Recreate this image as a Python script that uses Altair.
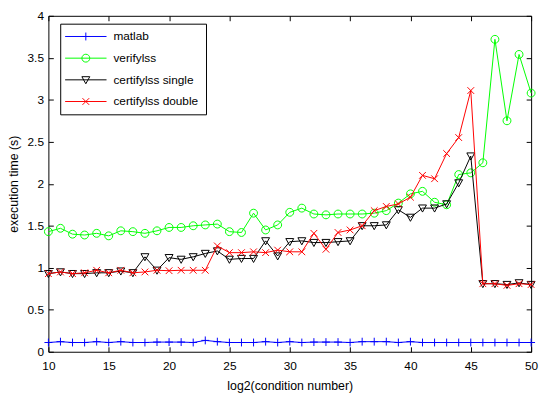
import altair as alt
import pandas as pd

x_vals = list(range(10, 51))

matlab = [0.11, 0.12, 0.11, 0.11, 0.12, 0.11, 0.12, 0.11, 0.11, 0.115,
          0.115, 0.115, 0.11, 0.135, 0.12, 0.11, 0.11, 0.11, 0.12, 0.11,
          0.12, 0.11, 0.115, 0.115, 0.115, 0.11, 0.12, 0.12, 0.12, 0.11,
          0.12, 0.11, 0.11, 0.11, 0.11, 0.11, 0.11, 0.11, 0.11, 0.11, 0.11]

verifylss = [1.43, 1.47, 1.40, 1.39, 1.41, 1.38, 1.44, 1.43, 1.41, 1.44,
             1.48, 1.48, 1.50, 1.51, 1.52, 1.43, 1.42, 1.65, 1.45, 1.51,
             1.66, 1.71, 1.64, 1.63, 1.64, 1.64, 1.64, 1.65, 1.68, 1.77,
             1.88, 1.91, 1.78, 1.75, 2.11, 2.13, 2.25, 3.72, 2.75, 3.54, 3.08]

certify_single = [0.93, 0.95, 0.93, 0.93, 0.94, 0.94, 0.96, 0.94, 1.13, 0.97,
                  1.12, 1.10, 1.13, 1.17, 1.20, 1.10, 1.11, 1.11, 1.32, 1.14,
                  1.31, 1.32, 1.30, 1.30, 1.31, 1.32, 1.50, 1.50, 1.51, 1.69,
                  1.60, 1.71, 1.71, 1.76, 2.01, 2.33, 0.81, 0.81, 0.80, 0.82, 0.80]

certify_double = [0.93, 0.95, 0.93, 0.94, 0.97, 0.94, 0.97, 0.94, 0.95, 0.97,
                  0.965, 0.97, 0.97, 0.97, 1.26, 1.18, 1.18, 1.19, 1.18, 1.21,
                  1.19, 1.19, 1.41, 1.22, 1.42, 1.45, 1.50, 1.68, 1.73, 1.76,
                  1.84, 2.10, 2.06, 2.36, 2.55, 3.11, 0.81, 0.81, 0.79, 0.81, 0.80]

series_names = ["matlab", "verifylss", "certifylss single", "certifylss double"]
series_values = [matlab, verifylss, certify_single, certify_double]
colors = ["#0000ff", "#00ff00", "#000000", "#ff0000"]
x_ticks = list(range(10, 51, 5))
y_ticks = [0, 0.5, 1, 1.5, 2, 2.5, 3, 3.5, 4]

marker_paths = [
    "M-1,0L1,0M0,-1L0,1",
    "M1,0A1,1 0 1,1 -1,0A1,1 0 1,1 1,0",
    "M-1,-0.8L1,-0.8L0,1Z",
    "M-0.85,-0.85L0.85,0.85M-0.85,0.85L0.85,-0.85",
]
legend_paths = ["M-5.25,0L5.25,0" + p for p in marker_paths]

rows = []
for name, vals in zip(series_names, series_values):
    for xv, yv in zip(x_vals, vals):
        rows.append({"x": xv, "y": yv, "series": name})
df = pd.DataFrame(rows)

W, H = 490, 341
TICK = 5
FONT = "Liberation Sans"
xscale = alt.Scale(domain=[10, 50], nice=False, zero=False)
yscale = alt.Scale(domain=[0, 4], nice=False)

# main axes: shifted inside by the tick length so that their ticks point inward
main_x = alt.Axis(orient="bottom", values=x_ticks, title="log2(condition number)",
                  offset=-TICK, ticks=True, tickSize=TICK, tickColor="black", tickWidth=1,
                  domain=False, grid=False, labelPadding=9,
                  titlePadding=8, labelFlush=False, labelOverlap=False,
                  labelFont=FONT, titleFont=FONT, labelFontSize=12, titleFontSize=12.5,
                  labelColor="black", titleColor="black", titleFontWeight="normal")
main_y = alt.Axis(orient="left", values=y_ticks, format="~g", title="execution time (s)",
                  offset=-TICK, ticks=True, tickSize=TICK, tickColor="black", tickWidth=1,
                  domain=False, grid=False, labelPadding=5,
                  titlePadding=7, labelOverlap=False,
                  labelFont=FONT, titleFont=FONT, labelFontSize=12, titleFontSize=12.5,
                  labelColor="black", titleColor="black", titleFontWeight="normal")


def tick_axis(orient, values, offset):
    return alt.Axis(orient=orient, values=values, offset=offset, labels=False,
                    title=None, domain=False, grid=False, ticks=True, tickSize=TICK,
                    tickColor="black", tickWidth=1)


axis_sets = [
    (main_x, main_y),
    # inward ticks at the top and right edges
    (tick_axis("bottom", x_ticks, -H), tick_axis("left", y_ticks, -W)),
]

base = alt.Chart(df)
layers = []
k = 0
for i, name in enumerate(series_names):
    d = base.transform_filter(alt.datum.series == name)
    for kind in ("line", "point"):
        if k < len(axis_sets):
            ax_x, ax_y = axis_sets[k]
        else:
            ax_x, ax_y = None, None
        enc = dict(
            x=alt.X("x:Q", scale=xscale, axis=ax_x),
            y=alt.Y("y:Q", scale=yscale, axis=ax_y),
        )
        if kind == "line":
            m = d.mark_line(color=colors[i], strokeWidth=1).encode(**enc)
        else:
            m = d.mark_point(shape=marker_paths[i], size=64, filled=False,
                             color=colors[i], strokeWidth=1, opacity=1).encode(**enc)
        layers.append(m)
        k += 1

legend_def = alt.Legend(title=None, orient="none", legendX=12, legendY=8,
                        strokeColor="black", fillColor="white", padding=7,
                        symbolOffset=13, labelOffset=22, rowPadding=10,
                        symbolSize=64, symbolStrokeWidth=1, labelFontSize=12,
                        labelFont=FONT, labelColor="black", cornerRadius=0)

legend_layer = base.transform_filter("false").mark_point(
    filled=False, size=64, strokeWidth=1, opacity=1
).encode(
    x=alt.X("x:Q", scale=xscale, axis=None),
    y=alt.Y("y:Q", scale=yscale, axis=None),
    color=alt.Color("series:N", scale=alt.Scale(domain=series_names, range=colors),
                    legend=legend_def),
    shape=alt.Shape("series:N", scale=alt.Scale(domain=series_names, range=legend_paths),
                    legend=legend_def),
)
layers.append(legend_layer)

chart = alt.layer(*layers).resolve_axis(
    x="independent", y="independent"
).properties(
    width=W, height=H, autosize="none", background="white",
    padding={"left": 41, "top": 5, "right": 8, "bottom": 42},
).configure_view(
    stroke="black", strokeWidth=1
)

chart.save("out.html", embed_options={"renderer": "svg", "actions": False})
